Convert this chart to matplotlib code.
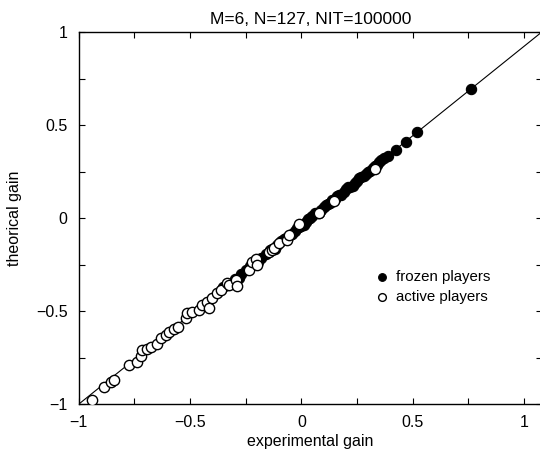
import matplotlib
matplotlib.use("Agg")
import matplotlib.pyplot as plt
from matplotlib.ticker import MultipleLocator

matplotlib.rcParams['font.family'] = 'Liberation Sans'
matplotlib.rcParams['font.size'] = 11

# active players (open circles): experimental gain, theoretical gain
active_x = [-0.94, -0.885, -0.854, -0.84, -0.773, -0.737, -0.719, -0.715, -0.692,
            -0.674, -0.647, -0.629, -0.607, -0.593, -0.571, -0.553, -0.517, -0.512,
            -0.49, -0.458, -0.445, -0.422, -0.413, -0.40, -0.378, -0.36, -0.333,
            -0.324, -0.292, -0.288, -0.234, -0.22, -0.202, -0.198, -0.144, -0.13,
            -0.121, -0.099, -0.063, -0.054, -0.01, 0.081, 0.148, 0.333]
active_y = [-0.98, -0.91, -0.88, -0.87, -0.79, -0.774, -0.742, -0.71, -0.704,
            -0.694, -0.677, -0.645, -0.629, -0.613, -0.597, -0.586, -0.538, -0.511,
            -0.505, -0.495, -0.468, -0.452, -0.484, -0.43, -0.403, -0.387, -0.35,
            -0.36, -0.333, -0.366, -0.28, -0.237, -0.22, -0.253, -0.183, -0.172,
            -0.161, -0.134, -0.118, -0.091, -0.03, 0.027, 0.091, 0.263]

# frozen players (filled circles)
frozen_x = [-0.35, -0.33, -0.30, -0.28, -0.27, -0.25, -0.23, -0.21, -0.195, -0.18,
            -0.16, -0.14, -0.13, -0.12, -0.11, -0.09, -0.08, -0.07, -0.05, -0.04,
            -0.03, -0.02, -0.01, 0.00, 0.01, 0.02, 0.03, 0.04, 0.05, 0.06, 0.07,
            0.08, 0.09, 0.10, 0.11, 0.12, 0.13, 0.14, 0.15, 0.16, 0.17, 0.18, 0.19,
            0.20, 0.21, 0.22, 0.23, 0.24, 0.25, 0.26, 0.27, 0.28, 0.29, 0.30, 0.31,
            0.32, 0.33, 0.34, 0.35, 0.36, 0.373, 0.39, 0.427, 0.472, 0.521, 0.764]
frozen_y = [-0.37, -0.36, -0.33, -0.32, -0.30, -0.28, -0.255, -0.245, -0.235, -0.215,
            -0.195, -0.17, -0.165, -0.165, -0.145, -0.125, -0.11, -0.105, -0.09, -0.085,
            -0.07, -0.055, -0.05, -0.04, -0.035, -0.02, -0.005, 0.00, 0.01, 0.025, 0.03,
            0.03, 0.045, 0.06, 0.07, 0.075, 0.08, 0.095, 0.105, 0.12, 0.125, 0.125, 0.14,
            0.155, 0.165, 0.17, 0.175, 0.19, 0.20, 0.215, 0.22, 0.225, 0.235, 0.25, 0.255,
            0.27, 0.28, 0.285, 0.30, 0.31, 0.323, 0.335, 0.366, 0.409, 0.462, 0.694]

# reference line
line_x = [-1, 1.08]
line_y = [-1, 1]

fig = plt.figure(figsize=(5.4, 4.53), dpi=100)
ax = fig.add_axes([0.146, 0.108, 0.857, 0.821])

ax.plot(line_x, line_y, color="black", lw=0.8, zorder=1)
ax.scatter(frozen_x, frozen_y, s=55, facecolor="black", edgecolor="black",
           linewidths=0.8, zorder=2, label="frozen players")
ax.scatter(active_x, active_y, s=55, facecolor="white", edgecolor="black",
           linewidths=1.0, zorder=3, label="active players")

ax.set_xlim(-1, 1.08)
ax.set_ylim(-1, 1)
ax.set_xticks([-1, -0.5, 0, 0.5, 1])
ax.set_xticklabels(["−1", "−0.5", "0", "0.5", "1"])
ax.set_yticks([-1, -0.5, 0, 0.5, 1])
ax.set_yticklabels(["−1", "−0.5", "0", "0.5", "1"])
ax.xaxis.set_minor_locator(MultipleLocator(0.25))
ax.yaxis.set_minor_locator(MultipleLocator(0.25))
ax.tick_params(axis="both", which="both", direction="in", top=True, right=True,
               length=4, width=0.8, labelsize=11.5, pad=8)

for sp in ax.spines.values():
    sp.set_linewidth(1.0)

ax.set_xlabel("experimental gain", fontsize=11.5, labelpad=3)
ax.set_ylabel("theorical gain", fontsize=11.5, labelpad=10)
ax.set_title("M=6, N=127, NIT=100000", fontsize=12.5, pad=6)

ax.legend(loc="upper left", bbox_to_anchor=(0.60, 0.39), frameon=False,
          handletextpad=-0.1, borderpad=0.2, labelspacing=0.4, fontsize=10.8,
          markerscale=0.75)

fig.savefig("out.png", dpi=100)
